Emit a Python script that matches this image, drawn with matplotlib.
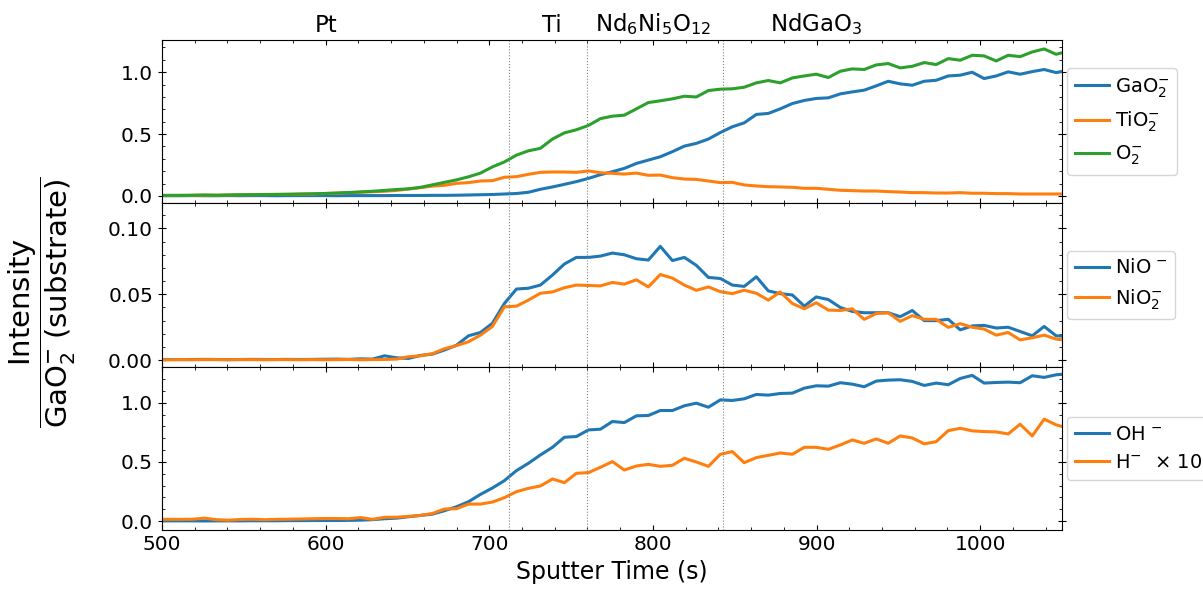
import matplotlib
matplotlib.use("Agg")
import matplotlib.pyplot as plt
from matplotlib.ticker import MultipleLocator

# sputter time (s)
time = [496.7, 504.0, 511.3, 518.7, 526.0, 533.3, 540.7, 548.0, 555.3, 562.6,
        570.0, 577.3, 584.6, 592.0, 599.3, 606.6, 614.0, 621.3, 628.6, 635.9,
        643.3, 650.6, 657.9, 665.3, 672.6, 679.9, 687.3, 694.6, 701.9, 709.2,
        716.6, 723.9, 731.2, 738.6, 745.9, 753.2, 760.6, 767.9, 775.2, 782.5,
        789.9, 797.2, 804.5, 811.9, 819.2, 826.5, 833.9, 841.2, 848.5, 855.8,
        863.2, 870.5, 877.8, 885.2, 892.5, 899.8, 907.2, 914.5, 921.8, 929.1,
        936.5, 943.8, 951.1, 958.5, 965.8, 973.1, 980.5, 987.8, 995.1, 1002.4,
        1009.8, 1017.1, 1024.4, 1031.8, 1039.1, 1046.4, 1053.8]

# panel 1
gao2 = [0.002, 0.002, 0.002, 0.003, 0.002, 0.002, 0.003, 0.002, 0.003, 0.003,
        0.002, 0.003, 0.003, 0.003, 0.003, 0.002, 0.003, 0.003, 0.003, 0.003,
        0.004, 0.004, 0.004, 0.005, 0.005, 0.006, 0.008, 0.010, 0.012,
        0.016, 0.020, 0.030, 0.054, 0.073, 0.094, 0.116, 0.142, 0.172,
        0.196, 0.223, 0.263, 0.290, 0.317, 0.358, 0.403, 0.425, 0.460, 0.513,
        0.559, 0.591, 0.659, 0.667, 0.704, 0.747, 0.772, 0.788, 0.793, 0.825,
        0.841, 0.855, 0.890, 0.927, 0.906, 0.895, 0.927, 0.935, 0.970, 0.976,
        1.000, 0.949, 0.970, 1.003, 0.984, 1.005, 1.022, 0.997, 1.016]
tio2 = [0.004, 0.004, 0.004, 0.005, 0.006, 0.006, 0.008, 0.009, 0.010, 0.011,
        0.012, 0.013, 0.015,
        0.016, 0.020, 0.022, 0.027, 0.030, 0.034, 0.038, 0.045, 0.056, 0.067,
        0.080, 0.086, 0.102, 0.108, 0.121, 0.124, 0.151, 0.156, 0.175, 0.191,
        0.194, 0.194, 0.191, 0.202, 0.188,
        0.183, 0.177, 0.185, 0.167, 0.169, 0.148, 0.137, 0.134, 0.121, 0.108,
        0.110, 0.089, 0.081, 0.075, 0.073, 0.070, 0.062, 0.062, 0.054, 0.046,
        0.043, 0.040, 0.040, 0.035, 0.032, 0.027, 0.027, 0.024, 0.024, 0.027,
        0.022, 0.022, 0.019, 0.019, 0.016, 0.016, 0.016, 0.016, 0.016]
o2 = [0.005, 0.005, 0.005, 0.006, 0.008, 0.006, 0.008, 0.010, 0.011, 0.012,
      0.013, 0.014, 0.016,
      0.018, 0.020, 0.024, 0.028, 0.033, 0.038, 0.045, 0.052, 0.058, 0.070,
      0.090, 0.110, 0.130, 0.155, 0.185, 0.235, 0.275, 0.330, 0.365, 0.385,
      0.460, 0.510, 0.535, 0.570, 0.625,
      0.645, 0.653, 0.704, 0.755, 0.769, 0.785, 0.806, 0.800, 0.852, 0.863,
      0.866, 0.879, 0.914, 0.933, 0.914, 0.954, 0.970, 0.984, 0.957, 1.008,
      1.027, 1.022, 1.059, 1.070, 1.035, 1.048, 1.078, 1.062, 1.110, 1.097,
      1.137, 1.132, 1.091, 1.137, 1.126, 1.164, 1.188, 1.145, 1.170]

# panel 2
nio = [0.0004, 0.0005, 0.0004, 0.0005, 0.0006, 0.0005, 0.0004, 0.0005, 0.0006,
       0.0005, 0.0005, 0.0006, 0.0005, 0.0006, 0.0007, 0.0008, 0.0006, 0.0010,
       0.0008,
       0.0033, 0.0018, 0.0013, 0.0036, 0.0046, 0.0077, 0.0113, 0.0185, 0.021,
       0.028, 0.043, 0.054, 0.0546, 0.057, 0.0646, 0.073, 0.078, 0.078, 0.079,
       0.0813, 0.080, 0.077, 0.076, 0.0864, 0.0756, 0.078, 0.072, 0.0628, 0.062,
       0.057, 0.056, 0.0633, 0.0526, 0.0505, 0.0495, 0.041, 0.048, 0.046, 0.040,
       0.037, 0.036, 0.036, 0.036, 0.033, 0.0377, 0.030, 0.030, 0.031, 0.023,
       0.026, 0.0264, 0.0244, 0.025, 0.0218, 0.0185, 0.0256, 0.0185, 0.018]
nio2 = [0.0003, 0.0003, 0.0004, 0.0003, 0.0004, 0.0004, 0.0003, 0.0004, 0.0004,
        0.0003, 0.0004, 0.0004, 0.0003, 0.0004, 0.0003, 0.0004, 0.0005, 0.0003,
        0.0004,
        0.0005, 0.0008, 0.0026, 0.0033, 0.005, 0.0087, 0.011, 0.014, 0.019,
        0.0256, 0.0405, 0.041, 0.0456, 0.0508, 0.0518, 0.055, 0.057, 0.0567,
        0.0564,
        0.059, 0.0577, 0.061, 0.0556, 0.065, 0.0623, 0.057, 0.053, 0.0556, 0.052,
        0.0505, 0.0531, 0.0508, 0.0456, 0.0518, 0.043, 0.039, 0.0436, 0.038,
        0.0377, 0.039, 0.031, 0.0354, 0.036, 0.0295, 0.0338, 0.031, 0.031,
        0.0249, 0.0277, 0.025, 0.0236, 0.019, 0.021, 0.0154, 0.017, 0.019,
        0.016, 0.015]

# panel 3
oh = [0.002, 0.002, 0.002, 0.002, 0.001, 0.002, 0.002, 0.002, 0.003, 0.003,
      0.003, 0.004, 0.004, 0.005, 0.005, 0.005,
      0.006, 0.008, 0.012, 0.020, 0.025, 0.037, 0.048, 0.059, 0.088, 0.121,
      0.164, 0.226, 0.280, 0.342, 0.427, 0.489, 0.559, 0.624, 0.709, 0.715,
      0.771, 0.777,
      0.842, 0.833, 0.890, 0.893, 0.935, 0.935, 0.975, 0.997, 0.963, 1.025,
      1.020, 1.034, 1.071, 1.065, 1.079, 1.082, 1.124, 1.144, 1.141, 1.170,
      1.158, 1.136, 1.184, 1.192, 1.195, 1.181, 1.147, 1.167, 1.153, 1.206,
      1.232, 1.167, 1.172, 1.175, 1.170, 1.229, 1.215, 1.237, 1.246]
h_x10 = [0.015, 0.015, 0.015, 0.016, 0.025, 0.012, 0.008, 0.014, 0.016, 0.012,
         0.015, 0.016, 0.018, 0.020, 0.022, 0.022, 0.020, 0.030, 0.015, 0.032,
         0.033, 0.040, 0.048,
         0.065, 0.102, 0.105, 0.144, 0.144, 0.161, 0.198, 0.249, 0.277, 0.297,
         0.356, 0.325, 0.404, 0.410, 0.455,
         0.503, 0.432, 0.466, 0.480, 0.463, 0.472, 0.531, 0.500, 0.463, 0.565,
         0.588, 0.494, 0.537, 0.556, 0.576, 0.565, 0.624, 0.624, 0.607, 0.644,
         0.686, 0.658, 0.695, 0.658, 0.720, 0.703, 0.653, 0.672, 0.765, 0.785,
         0.763, 0.757, 0.754, 0.737, 0.819, 0.720, 0.862, 0.814, 0.785]

# layer boundaries and layer names
boundaries = [712, 760, 843]
layer_pos = [600, 738, 800, 900]
layer_names = ["Pt", "Ti", r"Nd$_6$Ni$_5$O$_{12}$", r"NdGaO$_3$"]

fig, axes = plt.subplots(3, 1, sharex=True, figsize=(12.03, 5.89), dpi=100)
fig.subplots_adjust(left=0.1347, right=0.8828, top=0.932, bottom=0.100, hspace=0)

panels = [
    ([gao2, tio2, o2], [r"GaO$_2^{-}$", r"TiO$_2^{-}$", r"O$_2^{-}$"],
     ["tab:blue", "tab:orange", "tab:green"], (-0.06, 1.26), 0.5, 0.1),
    ([nio, nio2], [r"NiO$^{\,-}$", r"NiO$_2^{-}$"],
     ["tab:blue", "tab:orange"], (-0.005, 0.119), 0.05, 0.01),
    ([oh, h_x10], [r"OH$^{\,-}$", r"H$^{-}$  $\times$ 10"],
     ["tab:blue", "tab:orange"], (-0.076, 1.305), 0.5, 0.1),
]

for ax, (series, labels, colors, ylim, major, minor) in zip(axes, panels):
    for ys, lab, c in zip(series, labels, colors):
        ax.plot(time, ys, color=c, lw=2.2, label=lab)
    for b in boundaries:
        ax.axvline(b, color="grey", ls=":", lw=0.8)
    ax.set_ylim(*ylim)
    ax.yaxis.set_major_locator(MultipleLocator(major))
    ax.yaxis.set_minor_locator(MultipleLocator(minor))
    ax.xaxis.set_major_locator(MultipleLocator(100))
    ax.xaxis.set_minor_locator(MultipleLocator(20))
    ax.tick_params(axis="x", which="both", direction="in", top=True, labelsize=14.5)
    ax.tick_params(axis="y", which="major", direction="inout", length=6,
                   right=True, labelsize=14.5)
    ax.tick_params(axis="y", which="minor", direction="in", right=True)
    ax.legend(loc="center left", bbox_to_anchor=(1.0, 0.5), fontsize=14,
              handlelength=1.75, handletextpad=0.3, borderaxespad=0.25)

axes[-1].set_xlim(500, 1050)
axes[-1].set_xlabel("Sputter Time (s)", fontsize=17)

for x, name in zip(layer_pos, layer_names):
    axes[0].text(x, 1.02, name, transform=axes[0].get_xaxis_transform(),
                 ha="center", va="bottom", fontsize=16.5)

fig.text(0.035, 0.487,
         r"$\dfrac{\mathrm{Intensity}}{\mathrm{GaO_2^{-}\;(substrate)}}$",
         rotation=90, ha="center", va="center", fontsize=21)

fig.savefig("out.png", dpi=100)
